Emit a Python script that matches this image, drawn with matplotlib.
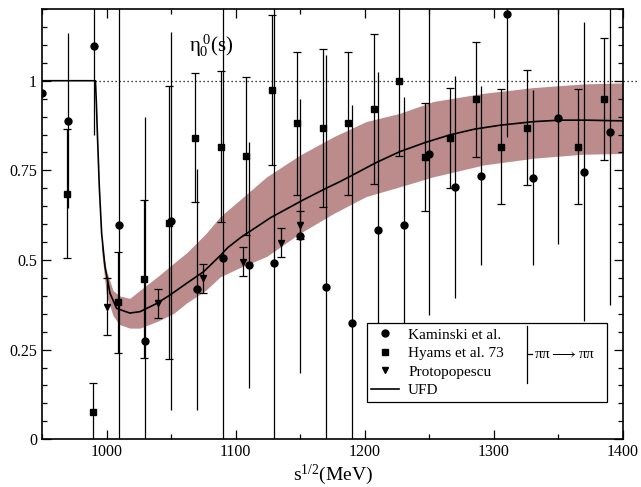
import matplotlib.pyplot as plt
from matplotlib.ticker import MultipleLocator

plt.rcParams['font.family'] = ['Liberation Serif', 'DejaVu Serif']
plt.rcParams['mathtext.fontset'] = 'custom'
plt.rcParams['mathtext.rm'] = 'Liberation Serif'
plt.rcParams['mathtext.it'] = 'Liberation Serif'
plt.rcParams['mathtext.bf'] = 'Liberation Serif:bold'

# Kaminski et al. (circles)
kam_E = [950, 970, 990, 1010, 1030, 1050, 1070, 1090, 1110, 1130, 1150, 1170,
         1190, 1210, 1230, 1250, 1270, 1290, 1310, 1330, 1350, 1370, 1390]
kam_eta = [0.967, 0.889, 1.097, 0.598, 0.275, 0.610, 0.418, 0.506, 0.486, 0.493, 0.567, 0.424,
           0.325, 0.584, 0.598, 0.797, 0.703, 0.735, 1.185, 0.730, 0.895, 0.746, 0.856]
kam_err = [0.0, 0.245, 0.247, 0.70, 0.625, 0.527, 0.335, 0.75, 0.344, 0.75, 0.381, 0.648,
           0.607, 0.44, 0.357, 0.45, 0.309, 0.25, 0.341, 0.245, 0.351, 0.417, 0.482]

# Hyams et al. 73 (squares)
hy_E = [969.6, 989.2, 1009.1, 1029, 1048, 1068.5, 1088.4, 1108, 1127.9, 1147.8, 1167.4,
        1187.3, 1206.9, 1226.5, 1246.7, 1266, 1286.2, 1305.8, 1325.4, 1364.9, 1385.1]
hy_eta = [0.685, 0.077, 0.382, 0.447, 0.604, 0.841, 0.816, 0.790, 0.974, 0.881, 0.869,
          0.881, 0.921, 1.000, 0.788, 0.841, 0.948, 0.816, 0.869, 0.816, 0.948]
hy_err = [0.18, 0.08, 0.14, 0.22, 0.38, 0.18, 0.21, 0.22, 0.21, 0.20, 0.22,
          0.20, 0.21, 0.21, 0.15, 0.14, 0.16, 0.16, 0.16, 0.16, 0.17]

# Protopopescu (triangles)
pr_E = [1000.1, 1040.1, 1075, 1105.4, 1135.4, 1149.8]
pr_eta = [0.370, 0.379, 0.449, 0.495, 0.548, 0.598]
pr_err = [0.08, 0.04, 0.04, 0.04, 0.04, 0.04]

# UFD central curve
ufd_E = [950, 991.4, 992.2, 992.9, 994.4, 996.2, 998.8, 1002.7, 1007.8, 1018, 1026, 1039,
         1049, 1062, 1075, 1088, 1094, 1104, 1127, 1152, 1170, 1181, 1189, 1209, 1227,
         1247, 1266, 1285, 1305, 1331, 1351, 1372, 1400]
ufd_eta = [1.0, 1.0, 0.93, 0.853, 0.704, 0.574, 0.481, 0.407, 0.365, 0.352, 0.356, 0.379,
           0.402, 0.435, 0.467, 0.512, 0.535, 0.563, 0.618, 0.667, 0.700, 0.719, 0.734, 0.772, 0.802,
           0.828, 0.849, 0.865, 0.876, 0.886, 0.890, 0.890, 0.888]

# UFD uncertainty band
band_E = [996, 1000, 1005, 1010, 1018, 1026, 1040, 1052, 1062, 1077, 1088, 1104,
          1124, 1150, 1176, 1201, 1227, 1253, 1292, 1331, 1369, 1400]
band_upper = [0.55, 0.47, 0.415, 0.40, 0.393, 0.416, 0.455, 0.491, 0.52, 0.574, 0.621, 0.67,
              0.732, 0.793, 0.844, 0.886, 0.909, 0.942, 0.965, 0.981, 0.991, 0.994]
band_lower = [0.53, 0.40, 0.345, 0.32, 0.310, 0.310, 0.33, 0.351, 0.38, 0.416, 0.453, 0.48,
              0.51, 0.575, 0.630, 0.677, 0.704, 0.732, 0.765, 0.784, 0.795, 0.797]

xticks = [1000, 1100, 1200, 1300, 1400]
yticks = [0, 0.25, 0.5, 0.75, 1]
ytick_labels = ['0', '0.25', '0.5', '0.75', '1']

fig = plt.figure(figsize=(6.41, 4.87), dpi=100)
ax = fig.add_axes([0.0655, 0.098, 0.9065, 0.8835])

# band + central curve
ax.fill_between(band_E, band_lower, band_upper, color='#bc8b8b', lw=0, zorder=1)
ufd_line, = ax.plot(ufd_E, ufd_eta, color='black', lw=1.2, zorder=2)

# eta = 1 reference (runs a bit past the right frame)
ax.plot([991.4, 1411], [1, 1], color='black', lw=0.9, ls=(0, (1, 2.2)),
        clip_on=False, zorder=2)

# data sets
e_kam = ax.errorbar(kam_E, kam_eta, yerr=kam_err, fmt='o', color='black', ms=5,
                    elinewidth=0.9, capsize=0, zorder=3)
e_hy = ax.errorbar(hy_E, hy_eta, yerr=hy_err, fmt='s', color='black', ms=4.2,
                   elinewidth=0.9, capsize=3.2, capthick=0.9, zorder=3)
e_pr = ax.errorbar(pr_E, pr_eta, yerr=pr_err, fmt='v', color='black', ms=5,
                   elinewidth=0.9, capsize=3.2, capthick=0.9, zorder=3)

# axes ranges / ticks
ax.set_xlim(950, 1400)
ax.set_ylim(0, 1.2)
ax.set_xticks(xticks)
ax.xaxis.set_minor_locator(MultipleLocator(50))
ax.set_yticks(yticks)
ax.set_yticklabels(ytick_labels)
ax.yaxis.set_minor_locator(MultipleLocator(0.05))
ax.tick_params(which='both', direction='in', top=True, right=True, width=0.9,
               labelsize=11.5, color='black')
ax.tick_params(which='major', length=6.5)
ax.tick_params(which='minor', length=3.3)
for s in ax.spines.values():
    s.set_linewidth(1.2)

ax.set_xlabel(r's$^{1/2}$(MeV)', fontsize=14, labelpad=2)
ax.text(1064, 1.08, r'$\eta_0^{\,0}$(s)', fontsize=15)

# legend
leg = ax.legend([e_kam[0], e_hy[0], e_pr[0], ufd_line],
                ['Kaminski et al.', 'Hyams et al. 73', 'Protopopescu', 'UFD'],
                loc='upper left', bbox_to_anchor=(0.559, 0.086, 0.414, 0.1836),
                mode='expand', borderaxespad=0, fancybox=False, edgecolor='black',
                framealpha=1, fontsize=11, handlelength=1.8, handletextpad=0.6,
                labelspacing=0.32, borderpad=0.3)
leg.get_frame().set_linewidth(0.9)

# bracket and reaction label inside the legend box
ax.plot([0.834, 0.834], [0.130, 0.263], transform=ax.transAxes, color='black', lw=0.9, zorder=6)
ax.plot([0.834, 0.843], [0.1975, 0.1975], transform=ax.transAxes, color='black', lw=0.9, zorder=6)
ax.text(0.846, 0.1975, r'$\pi\pi \longrightarrow \pi\pi$', transform=ax.transAxes,
        fontsize=11, va='center', ha='left', zorder=6)

plt.savefig('out.png', dpi=100)
